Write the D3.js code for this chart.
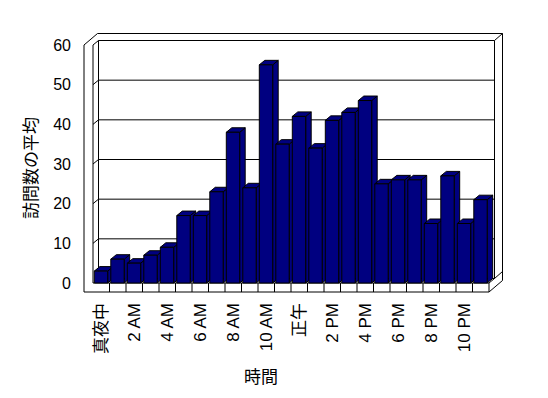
<!DOCTYPE html>
<html>
<head>
<meta charset="utf-8">
<style>
  body { margin: 0; background: #fff; }
  text { font-family: "Liberation Sans", "Noto Sans CJK JP", sans-serif; fill: #000; }
</style>
</head>
<body>
<svg id="chart" width="548" height="398"></svg>
<script src="https://cdnjs.cloudflare.com/ajax/libs/d3/7.8.5/d3.min.js"></script>
<script>

// ========== Data ==========
var hours = ["真夜中", "1 AM", "2 AM", "3 AM", "4 AM", "5 AM", "6 AM", "7 AM",
             "8 AM", "9 AM", "10 AM", "11 AM", "正午", "1 PM", "2 PM", "3 PM",
             "4 PM", "5 PM", "6 PM", "7 PM", "8 PM", "9 PM", "10 PM", "11 PM"];
var visits = [3, 6, 5, 7, 9, 17, 17, 23, 38, 24, 55, 35,
              42, 34, 41, 43, 46, 25, 26, 26, 15, 27, 15, 21];
var yTicks = [0, 10, 20, 30, 40, 50, 60];
var yTitle = "訪問数の平均";
var xTitle = "時間";

// ========== Layout ==========
var BAR_COLOR = "#000080";
var front = {left: 93, right: 489, bottom: 283, top: 45};
var depth = [5.5, -4.5];   // plot depth offset (front -> back wall)
var wall = [8, -7];        // wall thickness offset
var wallT = 9;             // left wall / floor thickness on front face

var svg = d3.select("#chart");

var x = d3.scaleBand()
    .domain(hours)
    .range([front.left, front.right])
    .padding(0);
var y = d3.scaleLinear()
    .domain([0, 60])
    .range([front.bottom, front.top]);

function pts(a) { return a.map(p => p.join(",")).join(" "); }

var bx = front.left + depth[0], by = front.bottom + depth[1];   // back plane bottom-left
var bxr = front.right + depth[0], byt = front.top + depth[1];    // back plane top-right
var ox = front.left - wallT, oyb = front.bottom + wallT;

// Outer silhouette of walls + floor
svg.append("polygon")
    .attr("points", pts([
        [ox, oyb], [ox, front.top],
        [ox + depth[0] + wall[0], front.top + depth[1] + wall[1]],
        [bxr + wall[0], byt + wall[1]],
        [bxr + wall[0], oyb + depth[1] + wall[1]],
        [front.right, oyb]]))
    .attr("fill", "#fff")
    .attr("stroke", "#000");

var edges = [
    [[front.left, front.top], [front.left, front.bottom]],
    [[front.left, front.bottom], [front.right, front.bottom]],
    [[front.right, front.bottom], [front.right, oyb]],
    [[front.left, front.top], [bx, byt]],
    [[bx, byt], [bxr, byt]],
    [[bx, byt], [bx, by]],
    [[bxr, byt], [bxr, by]],
    [[bx, by], [bxr, by]],
    [[front.right, front.bottom], [bxr, by]],
    [[bxr, byt], [bxr + wall[0], byt + wall[1]]],
    [[bxr, by], [bxr + wall[0], by + wall[1]]]
];
svg.append("g").selectAll("line")
    .data(edges)
    .enter()
    .append("line")
        .attr("x1", d => d[0][0]).attr("y1", d => d[0][1])
        .attr("x2", d => d[1][0]).attr("y2", d => d[1][1])
        .attr("stroke", "#000");

// Gridlines on back wall and left wall
var grid = svg.append("g");
yTicks.filter(v => v > 0 && v < 60).forEach(function(v) {
    grid.append("line")
        .attr("x1", bx).attr("x2", bxr)
        .attr("y1", y(v) + depth[1]).attr("y2", y(v) + depth[1])
        .attr("stroke", "#000");
    grid.append("line")
        .attr("x1", front.left).attr("x2", bx)
        .attr("y1", y(v)).attr("y2", y(v) + depth[1])
        .attr("stroke", "#000");
});

// Dividers on floor front face
svg.append("g").selectAll("line")
    .data(hours.slice(1))
    .enter()
    .append("line")
        .attr("x1", d => x(d)).attr("x2", d => x(d))
        .attr("y1", front.bottom).attr("y2", oyb)
        .attr("stroke", "#000");

// Bars (left to right so later fronts cover earlier sides)
var barOff = 1.3, barW = 13.4;
var bars = svg.append("g");
hours.forEach(function(h, i) {
    var x0 = x(h) + barOff, x1 = x0 + barW;
    var yt = y(visits[i]), yb = front.bottom;
    var dx = depth[0], dy = depth[1];
    var faces = [
        [[x1, yt], [x1 + dx, yt + dy], [x1 + dx, yb + dy], [x1, yb]],
        [[x0, yt], [x0 + dx, yt + dy], [x1 + dx, yt + dy], [x1, yt]],
        [[x0, yt], [x1, yt], [x1, yb], [x0, yb]]
    ];
    faces.forEach(f => bars.append("polygon")
        .attr("points", pts(f))
        .attr("fill", BAR_COLOR)
        .attr("stroke", "#000")
        .attr("stroke-linejoin", "round"));
});

// Y axis labels
var yAxis = svg.append("g")
    .attr("transform", `translate(${ox - 13}, 0)`)
    .call(d3.axisLeft(y).tickValues(yTicks).tickSize(0).tickPadding(0));
yAxis.select(".domain").remove();
yAxis.selectAll("text")
    .attr("font-family", null)
    .style("font-size", "16px");

// X axis labels (rotated)
var xAxis = svg.append("g")
    .attr("transform", `translate(${depth[0] / 2 - 2.75}, ${oyb})`)
    .call(d3.axisBottom(x).tickValues(hours.filter((d, i) => i % 2 == 0)).tickSize(0));
xAxis.select(".domain").remove();
xAxis.selectAll("text")
    .attr("font-family", null)
    .style("font-size", "17px")
    .attr("x", 0).attr("y", 0).attr("dy", "0.35em")
    .attr("text-anchor", "end")
    .attr("transform", "translate(0, 11) rotate(-90)");

// Axis titles
svg.append("text")
    .text(yTitle)
    .attr("transform", "translate(31, 168) rotate(-90)")
    .attr("text-anchor", "middle")
    .attr("dy", "0.35em")
    .style("font-size", "17px");
svg.append("text")
    .text(xTitle)
    .attr("x", 261).attr("y", 377)
    .attr("text-anchor", "middle")
    .attr("dy", "0.35em")
    .style("font-size", "17px");

</script>
</body>
</html>
